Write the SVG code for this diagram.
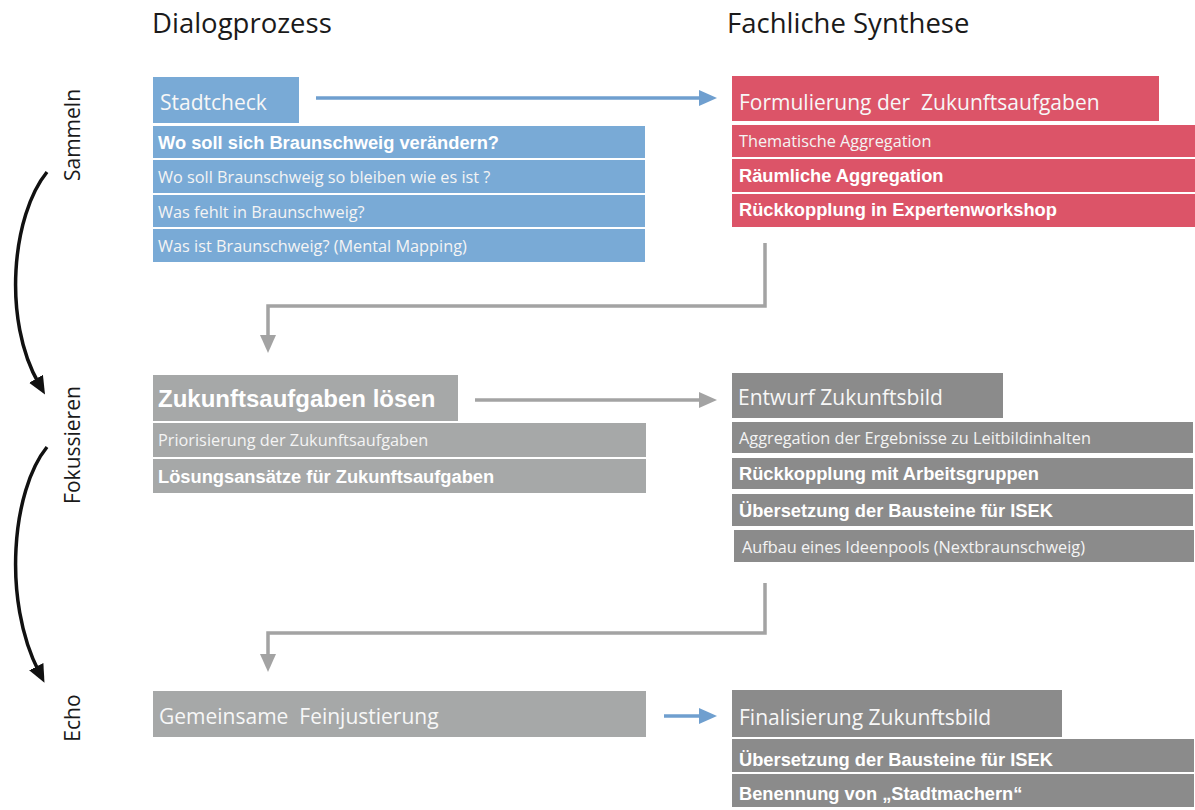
<svg xmlns="http://www.w3.org/2000/svg" width="1195" height="810" viewBox="0 0 1195 810">
<style>
.title{font-family:"Open Sans","Liberation Sans",sans-serif;font-size:27.5px;fill:#1a1a1a}
.side{font-family:"Open Sans","Liberation Sans",sans-serif;font-size:21px;fill:#1a1a1a}
.hd{font-family:"Open Sans","Liberation Sans",sans-serif;font-size:21px;fill:#f7f7f7}
.hdb{font-family:"Liberation Sans",Arial,sans-serif;font-weight:bold;font-size:24px;fill:#ffffff}
.rg{font-family:"Open Sans","Liberation Sans",sans-serif;font-size:16.3px;fill:#f4f4f4}
.bd{font-family:"Liberation Sans",Arial,sans-serif;font-weight:bold;font-size:18.3px;fill:#ffffff}
.blue{fill:#79aad6}
.red{fill:#dc5468}
.lg{fill:#a6a8a8}
.dg{fill:#8b8b8b}
.cb{fill:none;stroke:#6f9fcf;stroke-width:3.5}
.cg{fill:none;stroke:#a3a3a3;stroke-width:3.5}
.ck{fill:none;stroke:#111;stroke-width:3.5}
</style>
<defs>
<marker id="mb" markerUnits="userSpaceOnUse" viewBox="0 0 18 16" refX="6" refY="8" markerWidth="18" markerHeight="16" orient="auto"><path d="M0,0 L18,8 L0,16 z" fill="#6f9fcf"/></marker>
<marker id="mg" markerUnits="userSpaceOnUse" viewBox="0 0 18 16" refX="6" refY="8" markerWidth="18" markerHeight="16" orient="auto"><path d="M0,0 L18,8 L0,16 z" fill="#a3a3a3"/></marker>
<marker id="mk" markerUnits="userSpaceOnUse" viewBox="0 0 18 16" refX="6" refY="8" markerWidth="18" markerHeight="16" orient="auto"><path d="M0,0 L18,8 L0,16 z" fill="#111"/></marker>
</defs>
<rect width="1195" height="810" fill="#ffffff"/>

<g id="titles">
<text class="title" x="152" y="33">Dialogprozess</text>
<text class="title" x="727" y="33">Fachliche Synthese</text>
</g>

<g id="phases">
<text class="side" transform="translate(80,135) rotate(-90)" text-anchor="middle">Sammeln</text>
<text class="side" transform="translate(80,445) rotate(-90)" text-anchor="middle">Fokussieren</text>
<text class="side" transform="translate(80,718) rotate(-90)" text-anchor="middle">Echo</text>
</g>

<g id="connectors">
<path class="ck" d="M47,172 C12,215 2,320 39,384" marker-end="url(#mk)"/>
<path class="ck" d="M47,447 C12,490 2,600 39,672" marker-end="url(#mk)"/>
<line class="cb" x1="316" y1="98" x2="705" y2="98" marker-end="url(#mb)"/>
<line class="cg" x1="475" y1="400" x2="705" y2="400" marker-end="url(#mg)"/>
<line class="cb" x1="664" y1="716" x2="705" y2="716" marker-end="url(#mb)"/>
<path class="cg" d="M765,243 L765,306 L268,306 L268,341" marker-end="url(#mg)"/>
<path class="cg" d="M765,583 L765,633 L268,633 L268,660" marker-end="url(#mg)"/>
</g>

<g id="stadtcheck">
<rect class="blue" x="153" y="77" width="146" height="46"/>
<text class="hd" x="160" y="110">Stadtcheck</text>
<rect class="blue" x="153" y="126" width="492" height="32"/>
<text class="bd" x="158" y="149">Wo soll sich Braunschweig verändern?</text>
<rect class="blue" x="153" y="160" width="492" height="33"/>
<text class="rg" x="158" y="183">Wo soll Braunschweig so bleiben wie es ist ?</text>
<rect class="blue" x="153" y="195" width="492" height="32"/>
<text class="rg" x="158" y="218">Was fehlt in Braunschweig?</text>
<rect class="blue" x="153" y="229" width="492" height="33"/>
<text class="rg" x="158" y="252">Was ist Braunschweig? (Mental Mapping)</text>
</g>

<g id="formulierung">
<rect class="red" x="732" y="76" width="427" height="45"/>
<text class="hd" x="739" y="110" xml:space="preserve">Formulierung der  Zukunftsaufgaben</text>
<rect class="red" x="732" y="125" width="463" height="32"/>
<text class="rg" x="739" y="147">Thematische Aggregation</text>
<rect class="red" x="732" y="159" width="463" height="33"/>
<text class="bd" x="739" y="182">Räumliche Aggregation</text>
<rect class="red" x="732" y="194" width="463" height="33"/>
<text class="bd" x="739" y="216">Rückkopplung in Expertenworkshop</text>
</g>

<g id="loesen">
<rect class="lg" x="153" y="375" width="305" height="46"/>
<text class="hdb" x="158" y="407">Zukunftsaufgaben lösen</text>
<rect class="lg" x="153" y="423" width="493" height="34"/>
<text class="rg" x="158" y="446">Priorisierung der Zukunftsaufgaben</text>
<rect class="lg" x="153" y="459" width="493" height="34"/>
<text class="bd" x="158" y="483">Lösungsansätze für Zukunftsaufgaben</text>
</g>

<g id="entwurf">
<rect class="dg" x="732" y="373" width="271" height="45"/>
<text class="hd" x="738" y="405">Entwurf Zukunftsbild</text>
<rect class="dg" x="732" y="422" width="461" height="31"/>
<text class="rg" x="739" y="444">Aggregation der Ergebnisse zu Leitbildinhalten</text>
<rect class="dg" x="732" y="458" width="461" height="31"/>
<text class="bd" x="739" y="480">Rückkopplung mit Arbeitsgruppen</text>
<rect class="dg" x="732" y="494" width="461" height="32"/>
<text class="bd" x="739" y="517">Übersetzung der Bausteine für ISEK</text>
<rect class="dg" x="734" y="530" width="460" height="32"/>
<text class="rg" x="742" y="553">Aufbau eines Ideenpools (Nextbraunschweig)</text>
</g>

<g id="feinjustierung">
<rect class="lg" x="153" y="691" width="493" height="46"/>
<text class="hd" x="159" y="724" xml:space="preserve">Gemeinsame  Feinjustierung</text>
</g>

<g id="finalisierung">
<rect class="dg" x="732" y="690" width="330" height="47"/>
<text class="hd" x="739" y="725">Finalisierung Zukunftsbild</text>
<rect class="dg" x="732" y="739" width="462" height="33"/>
<text class="bd" x="739" y="766">Übersetzung der Bausteine für ISEK</text>
<rect class="dg" x="732" y="774" width="462" height="33"/>
<text class="bd" x="739" y="800">Benennung von „Stadtmachern“</text>
</g>
</svg>
